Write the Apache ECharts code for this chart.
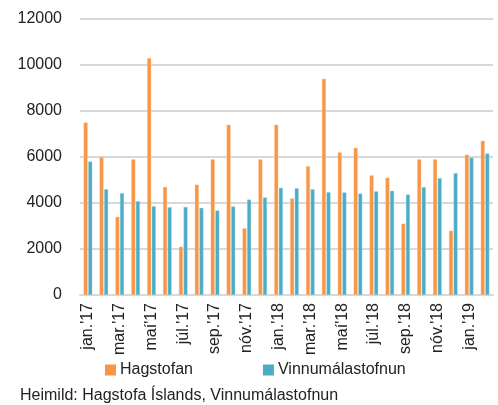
<!DOCTYPE html>
<html>
<head>
<meta charset="utf-8">
<script src="https://cdn.jsdelivr.net/npm/echarts@6/dist/echarts.min.js"></script>
<style>
html,body{margin:0;padding:0;background:#fff;}
#chart{width:498px;height:405px;}
</style>
</head>
<body>
<div id="chart"></div>
<script>
const categories = ["jan.'17","feb.'17","mar.'17","apr.'17","maí'17","jún.'17","júl.'17","ágú.'17","sep.'17","okt.'17","nóv.'17","des.'17",
  "jan.'18","feb.'18","mar.'18","apr.'18","maí'18","jún.'18","júl.'18","ágú.'18","sep.'18","okt.'18","nóv.'18","des.'18",
  "jan.'19","feb.'19"];
const hagstofan = [7500,6000,3400,5900,10300,4700,2100,4800,5900,7400,2900,5900,
  7400,4200,5600,9400,6200,6400,5200,5100,3100,5900,5900,2800,6100,6700];
const vinnumalastofnun = [5800,4600,4430,4080,3860,3820,3830,3790,3670,3850,4150,4240,
  4660,4640,4600,4470,4460,4410,4510,4530,4370,4690,5080,5300,5980,6150];
const yTicks = [0,2000,4000,6000,8000,10000,12000];
const seriesNames = ["Hagstofan","Vinnumálastofnun"];
const sourceText = "Heimild: Hagstofa Íslands, Vinnumálastofnun";

const FONT = "Liberation Sans";
const chart = echarts.init(document.getElementById('chart'), null, {renderer:'canvas'});
chart.setOption({
  animation:false,
  textStyle:{fontFamily:FONT},
  grid:{left:80,right:5,top:19,bottom:110,containLabel:false},
  legend:{
    data:seriesNames,
    left:105, top:362, padding:0,
    itemWidth:11, itemHeight:11, itemGap:70,
    icon:'rect',
    itemStyle:{borderWidth:0},
    textStyle:{fontFamily:FONT,fontSize:16,color:'#222',padding:[0,0,0,-1]}
  },
  graphic:[{type:'text',left:20,top:388,style:{text:sourceText,font:'16px "Liberation Sans"',fill:'#222'}}],
  xAxis:{
    type:'category',
    data:categories,
    axisLine:{lineStyle:{color:'#d9d9d9',width:2}},
    axisTick:{show:false},
    axisLabel:{interval:1,rotate:90,fontSize:16,color:'#222',fontFamily:FONT,margin:8}
  },
  yAxis:{
    type:'value',
    min:yTicks[0], max:yTicks[yTicks.length-1], interval:2000,
    axisLine:{show:false},
    axisTick:{show:false},
    splitLine:{lineStyle:{color:'#d9d9d9',width:2}},
    axisLabel:{fontSize:16,color:'#222',fontFamily:FONT,margin:18,formatter:function(v){return String(v);}}
  },
  series:[
    {name:seriesNames[0],type:'bar',data:hagstofan,barWidth:4,barGap:'15%',
     itemStyle:{color:'#F79646',borderColor:'#fbc9a0',borderWidth:0.4}},
    {name:seriesNames[1],type:'bar',data:vinnumalastofnun,barWidth:4,barGap:'15%',
     itemStyle:{color:'#4BACC6',borderColor:'#a8dbe8',borderWidth:0.4}}
  ]
});
</script>
</body>
</html>
